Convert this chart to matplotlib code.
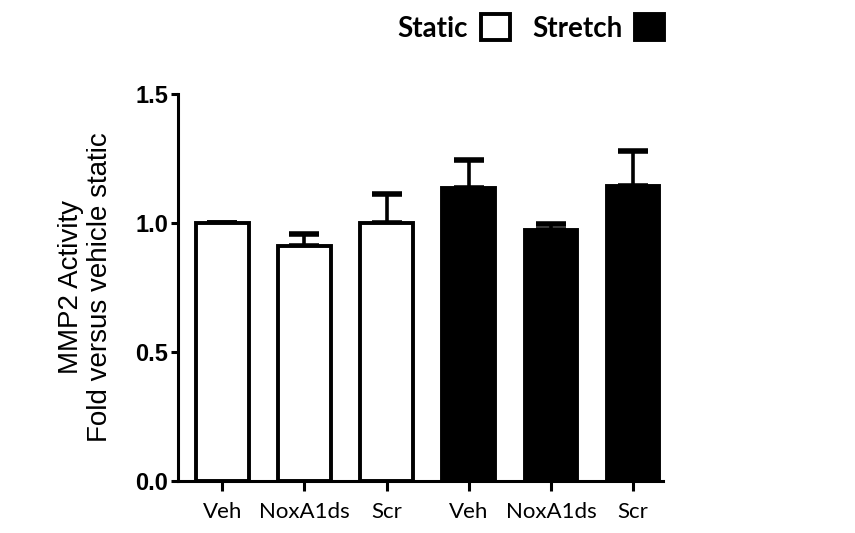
import matplotlib.pyplot as plt
import matplotlib.patches as mpatches
import numpy as np

plt.rcParams['font.family'] = ['Lato', 'DejaVu Sans']

# MMP2 activity, fold versus vehicle static
categories = ['Veh', 'NoxA1ds', 'Scr', 'Veh', 'NoxA1ds', 'Scr']
conditions = ['Static', 'Static', 'Static', 'Stretch', 'Stretch', 'Stretch']
means = [1.00, 0.91, 1.00, 1.135, 0.972, 1.142]
sem = [0.0, 0.047, 0.112, 0.108, 0.024, 0.136]

colors = {'Static': 'white', 'Stretch': 'black'}

fig = plt.figure(figsize=(8.55, 5.33), dpi=100)
ax = fig.add_axes([0.208, 0.098, 0.567, 0.726])

x = np.arange(len(categories))
bar_colors = [colors[c] for c in conditions]
ax.bar(x, means, width=0.64, color=bar_colors, edgecolor='black', linewidth=2.8, zorder=2)
ax.errorbar(x, means, yerr=[np.zeros(len(sem)), sem], fmt='none', ecolor='black',
            elinewidth=2.6, capsize=11, capthick=4, zorder=1)

ax.set_xlim(-0.54, 5.36)
ax.set_ylim(0, 1.5)
ax.set_yticks([0.0, 0.5, 1.0, 1.5])
ax.set_yticklabels(['0.0', '0.5', '1.0', '1.5'], fontsize=17, fontweight='bold',
                   family='Liberation Sans')
ax.set_xticks(x)
ax.set_xticklabels(categories, fontsize=16)

ax.spines['top'].set_visible(False)
ax.spines['right'].set_visible(False)
ax.spines['left'].set_linewidth(2.2)
ax.spines['bottom'].set_linewidth(2.2)
ax.tick_params(axis='both', width=2.2, length=5, pad=2)
ax.tick_params(axis='x', length=7, pad=8)

ax.set_ylabel('MMP2 Activity\nFold versus vehicle static', fontsize=20, labelpad=16,
              linespacing=1.15, family='Liberation Sans')

handles = [mpatches.Patch(facecolor=colors[k], edgecolor='black', linewidth=2.8, label=k)
           for k in ['Static', 'Stretch']]
ax.legend(handles=handles, ncol=2, markerfirst=False, frameon=False, loc='center',
          bbox_to_anchor=(0.728, 1.17), prop={'size': 20, 'weight': 'bold'},
          handlelength=1.05, handleheight=1.05, handletextpad=0.45, columnspacing=0.8)

plt.savefig('out.png', dpi=100)
